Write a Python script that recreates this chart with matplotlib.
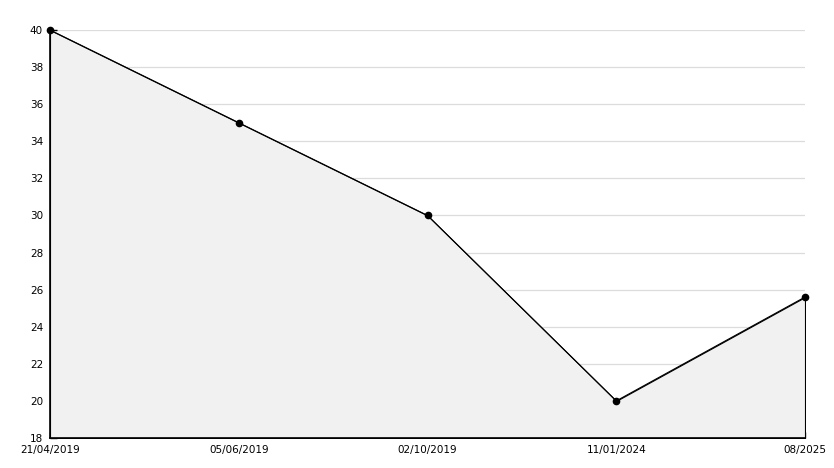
import matplotlib
matplotlib.use("Agg")
import matplotlib.pyplot as plt
from matplotlib.ticker import MultipleLocator

labels = ["21/04/2019", "05/06/2019", "02/10/2019", "11/01/2024", "08/2025"]
values = [40, 35, 30, 20, 25.6]

W, H = 834, 468
fig = plt.figure(figsize=(W/100, H/100), dpi=100)
ax = fig.add_axes([50/W, (H-438)/H, (805-50)/W, (438-30)/H])

x = list(range(len(labels)))
ax.set_xlim(0, len(labels)-1)
ax.set_ylim(18, 40)

ax.fill_between(x, 18, values, facecolor="#f1f1f1", edgecolor="black", linewidth=0.8, zorder=2)
ax.plot(x, values, color="black", linewidth=0.8, marker="o", markersize=4.5, zorder=3, clip_on=False)

ax.yaxis.set_major_locator(MultipleLocator(2))
ax.yaxis.set_minor_locator(MultipleLocator(1))
ax.grid(axis="y", which="major", color="#dcdcdc", linewidth=0.9, zorder=1)
ax.set_axisbelow(True)
ax.set_xticks(x)
ax.set_xticklabels(labels)

for s in ["top", "right"]:
    ax.spines[s].set_visible(False)
for s in ["left", "bottom"]:
    ax.spines[s].set_linewidth(1.2)
    ax.spines[s].set_color("black")

ax.tick_params(axis="y", which="major", direction="in", length=5, width=1, labelsize=7.5, pad=5)
ax.tick_params(axis="y", which="minor", direction="in", length=4, width=1)
ax.tick_params(axis="x", which="major", direction="in", length=4, width=1, labelsize=7.5, pad=5)

fig.savefig("out.png", dpi=100)
